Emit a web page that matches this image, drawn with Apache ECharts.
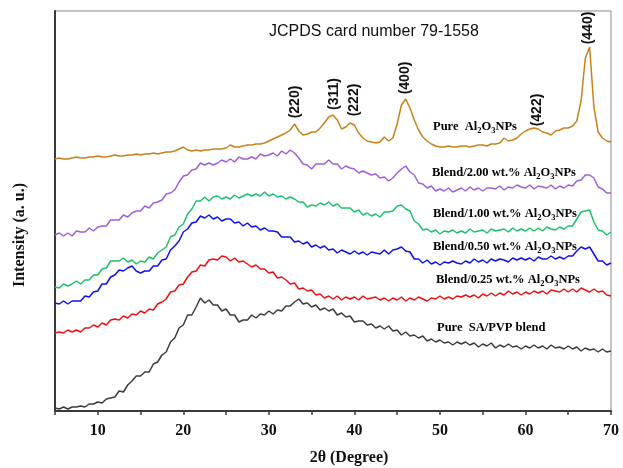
<!DOCTYPE html>
<html>
<head>
<meta charset="utf-8">
<script src="https://cdn.jsdelivr.net/npm/echarts@6/dist/echarts.min.js"></script>
<style>
  html, body { margin: 0; padding: 0; background: #ffffff; }
  #chart { width: 623px; height: 468px; }
</style>
</head>
<body>
<div id="chart"></div>
<script>
// XRD patterns, 2θ from 5° to 70° sampled every 0.5° (intensity in arbitrary units, stacked)
const THETA_START = 5;
const THETA_STEP = 0.5;

const pureAl2O3 = [
  252,253,252,252,253,254,253,253,254,254,
  255,254,254,255,256,255,255,256,256,257,
  256,257,257,258,257,258,259,259,260,262,
  264,261,260,261,260,261,261,262,262,262,
  263,266,264,264,265,266,266,267,267,268,
  270,272,274,276,278,281,287,280,276,277,
  279,279,283,288,294,296,291,282,284,288,
  286,278,273,270,269,268,269,274,270,273,
  287,306,312,303,291,281,274,270,267,265,
  264,264,265,264,264,265,265,264,265,266,
  266,265,267,267,268,273,270,271,273,277,
  280,282,283,282,279,278,276,280,281,283,
  283,285,290,310,353,364,304,279,273,270,
  269
];

const blend200 = [
  176,178,175,178,175,180,179,179,183,180,
  184,185,185,191,191,191,196,194,198,200,
  200,205,203,208,209,211,217,218,221,229,
  235,236,241,242,248,246,248,246,248,251,
  249,252,249,254,252,252,254,252,257,255,
  256,258,255,260,257,261,258,253,247,246,
  242,247,247,247,251,247,247,242,245,243,
  242,238,240,238,236,237,233,234,230,233,
  238,242,245,239,236,228,227,223,225,220,
  222,220,223,219,221,223,220,224,221,223,
  220,223,223,222,225,221,224,223,226,224,
  223,226,222,225,224,223,226,222,225,223,
  226,225,230,231,236,236,233,224,222,218,
  218
];

const blend100 = [
  124,123,127,125,127,130,127,131,131,136,
  136,142,143,150,150,150,153,149,151,147,
  150,149,154,152,158,161,164,174,176,184,
  187,197,202,210,210,214,210,214,215,212,
  214,212,216,213,215,217,215,217,215,219,
  215,217,214,215,212,214,212,209,209,204,
  206,205,208,206,209,205,207,203,203,203,
  199,201,196,198,195,197,194,199,199,200,
  205,206,202,200,190,187,181,182,179,181,
  177,180,179,181,178,180,178,182,179,180,
  181,178,182,180,181,182,179,183,180,182,
  180,183,180,183,180,184,182,181,184,182,
  185,185,192,199,200,201,189,181,180,176,
  179
];

const blend050 = [
  108,107,110,107,110,110,110,115,114,119,
  120,127,127,134,136,141,140,143,145,140,
  138,140,140,145,145,151,152,161,165,170,
  179,182,188,189,195,193,196,192,194,190,
  192,192,188,189,185,188,184,185,181,183,
  180,180,179,174,174,174,169,170,167,169,
  164,166,163,165,161,162,158,161,159,157,
  160,157,159,156,159,158,157,161,157,161,
  162,164,160,159,152,152,148,151,147,149,
  146,149,148,150,148,147,150,148,152,149,
  151,148,152,150,152,151,149,153,151,153,
  151,153,150,154,152,152,155,152,154,152,
  155,155,160,164,162,164,157,150,150,146,
  148
];

const blend025 = [
  78,79,78,81,79,81,79,83,83,86,
  84,88,86,91,92,91,95,93,97,96,
  100,98,102,101,107,109,112,119,120,126,
  127,134,139,140,146,145,151,152,151,155,
  154,150,153,149,150,147,144,146,142,142,
  138,139,133,134,131,127,128,122,123,120,
  121,116,117,113,115,112,115,111,114,112,
  114,111,115,112,113,114,111,113,110,113,
  111,114,110,113,111,114,112,110,113,112,
  115,112,114,112,115,114,116,114,116,113,
  117,115,118,115,118,116,120,117,119,116,
  119,117,120,118,120,117,121,120,119,122,
  119,122,119,123,121,119,122,119,120,116,
  115
];

const pureSAPVP = [
  3,2,4,2,4,4,5,4,7,7,
  9,8,12,13,14,20,19,26,30,35,
  35,39,39,47,49,56,59,69,73,83,
  86,96,96,104,113,108,111,106,106,100,
  102,96,96,89,91,91,96,93,97,96,
  100,97,101,100,105,105,109,112,107,108,
  104,106,101,103,100,102,96,98,94,95,
  89,90,90,86,87,83,85,82,85,80,
  81,76,79,75,76,73,75,70,72,69,
  71,68,69,66,69,67,69,66,68,64,
  67,65,68,63,66,64,67,64,65,62,
  65,63,66,63,65,62,66,63,64,62,
  65,62,64,60,63,61,62,59,62,59,
  60
];

const seriesNames = [
  'Pure Al2O3NPs',
  'Blend/2.00 wt.% Al2O3NPs',
  'Blend/1.00 wt.% Al2O3NPs',
  'Blend/0.50 wt.% Al2O3NPs',
  'Blend/0.25 wt.% Al2O3NPs',
  'Pure SA/PVP blend'
];
const seriesValues = [pureAl2O3, blend200, blend100, blend050, blend025, pureSAPVP];
const seriesColors = ['#c8821c', '#9f5fd9', '#1dc06c', '#1010ee', '#f01010', '#3c3c3c'];

const xTicks = [10, 20, 30, 40, 50, 60, 70];
const peakIndices = ['(220)', '(311)', '(222)', '(400)', '(422)', '(440)'];

const twoTheta = pureAl2O3.map((_, i) => THETA_START + i * THETA_STEP);

const serif = 'Liberation Serif, Times New Roman, serif';
const sans = 'Liberation Sans, Arial, sans-serif';

// curve captions (rich text for the Al2O3 subscripts)
const capRich = {
  m: { fontFamily: serif, fontWeight: 'bold', fontSize: 12.5, lineHeight: 16, color: '#111' },
  s: { fontFamily: serif, fontWeight: 'bold', fontSize: 8.5, lineHeight: 8, verticalAlign: 'bottom', color: '#111' }
};
const captionText = [
  '{m|Pure  Al}{s|2}{m|O}{s|3}{m|NPs}',
  '{m|Blend/2.00 wt.% Al}{s|2}{m|O}{s|3}{m|NPs}',
  '{m|Blend/1.00 wt.% Al}{s|2}{m|O}{s|3}{m|NPs}',
  '{m|Blend/0.50 wt.% Al}{s|2}{m|O}{s|3}{m|NPs}',
  '{m|Blend/0.25 wt.% Al}{s|2}{m|O}{s|3}{m|NPs}',
  '{m|Pure  SA/PVP blend}'
];
const captionPos = [[433, 127], [432, 173], [433, 214], [433, 247], [436, 280], [437, 328]];
const peakPos = [[295, 102], [334, 94], [354, 100], [405, 78], [537, 110], [588, 28]];

const graphics = [];
captionText.forEach((t, i) => {
  graphics.push({
    type: 'text', z: 100, x: captionPos[i][0], y: captionPos[i][1],
    style: { text: t, rich: capRich, align: 'left', verticalAlign: 'middle' }
  });
});
peakIndices.forEach((t, i) => {
  graphics.push({
    type: 'text', z: 100, x: peakPos[i][0], y: peakPos[i][1], rotation: Math.PI / 2,
    style: { text: t, font: 'bold 14px ' + sans, fill: '#111', align: 'center', verticalAlign: 'middle' }
  });
});
graphics.push({
  type: 'text', z: 100, x: 269, y: 32,
  style: { text: 'JCPDS card number 79-1558', font: '16px ' + sans, fill: '#111', align: 'left', verticalAlign: 'middle' }
});
graphics.push({
  type: 'text', z: 100, x: 349, y: 458,
  style: { text: '2θ (Degree)', font: 'bold 16px ' + serif, fill: '#111', align: 'center', verticalAlign: 'middle' }
});
graphics.push({
  type: 'text', z: 100, x: 20, y: 235, rotation: Math.PI / 2,
  style: { text: 'Intensity (a. u.)', font: 'bold 16px ' + serif, fill: '#111', align: 'center', verticalAlign: 'middle' }
});

const chart = echarts.init(document.getElementById('chart'), null, { renderer: 'canvas' });
chart.setOption({
  animation: false,
  backgroundColor: '#ffffff',
  grid: { left: 55, right: 12, top: 11, bottom: 57, show: true, borderColor: '#8a8a8a', borderWidth: 1 },
  xAxis: {
    type: 'value', min: 5, max: 70, interval: 5,
    axisLine: { show: true, onZero: false, lineStyle: { color: '#3a3a3a', width: 2 } },
    axisTick: { show: true, inside: false, length: 4, lineStyle: { color: '#3a3a3a', width: 1.5 } },
    axisLabel: {
      margin: 12, color: '#111', fontFamily: serif, fontWeight: 'bold', fontSize: 16,
      formatter: v => (xTicks.indexOf(v) >= 0 ? String(v) : '')
    },
    splitLine: { show: false }
  },
  yAxis: {
    type: 'value', min: 0, max: 400,
    axisLine: { show: true, lineStyle: { color: '#3a3a3a', width: 2 } },
    axisTick: { show: false },
    axisLabel: { show: false },
    splitLine: { show: false }
  },
  series: seriesValues.map((vals, k) => ({
    name: seriesNames[k],
    type: 'line',
    showSymbol: false,
    symbol: 'none',
    lineStyle: { color: seriesColors[k], width: 1.5 },
    data: vals.map((v, i) => [twoTheta[i], v])
  })),
  graphic: graphics
});
</script>
</body>
</html>
